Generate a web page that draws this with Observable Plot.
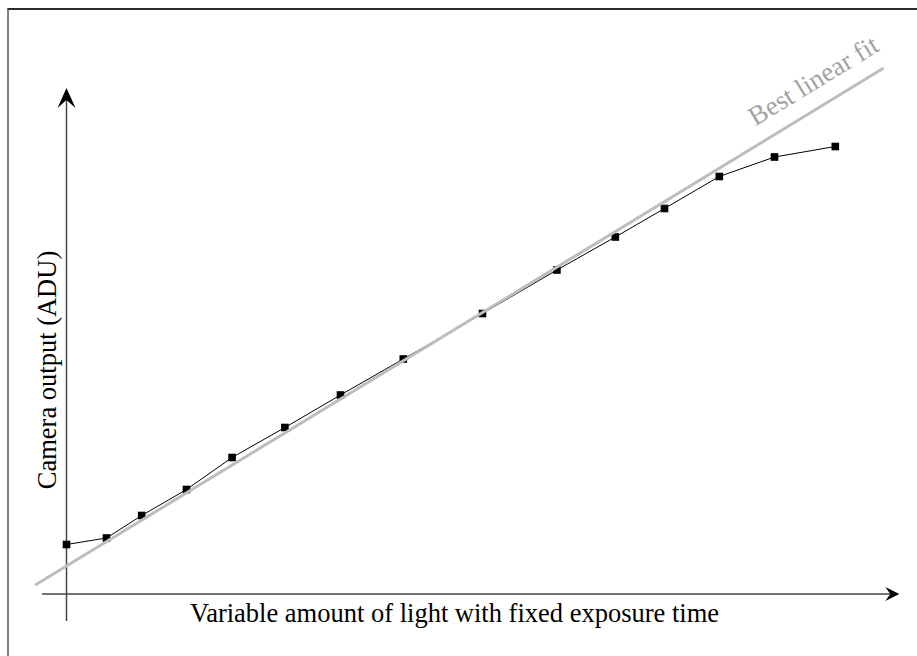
<!DOCTYPE html>
<html><head><meta charset="utf-8">
<script src="https://cdn.jsdelivr.net/npm/d3@7"></script>
<script src="https://cdn.jsdelivr.net/npm/@observablehq/plot@0.6"></script>
<style>
html,body{margin:0;padding:0;background:#fff;}
#frame{position:absolute;left:7px;top:8px;width:910px;height:648px;border-left:2px solid #808080;border-top:2px solid #2a2a2a;box-sizing:border-box;}
#chart{position:absolute;left:0;top:0;}
</style></head><body>
<div id="frame"></div><div id="chart"></div>
<script>
// measured data (arbitrary units)
const lightAmount  = [0, 5.0, 9.4, 15.0, 20.7, 27.3, 34.25, 42.1, 52.0, 61.3, 68.6, 74.75, 81.6, 88.5, 96.1];
const cameraOutput = [9.9, 11.2, 15.7, 20.9, 27.3, 33.3, 39.8, 47.0, 56.1, 64.8, 71.4, 77.1, 83.5, 87.4, 89.5];
// best linear fit
const fitX = [-3.8, 102];
const fitIntercept = 5.6;
const fitSlope = 0.975;
// axes extents (data units)
const xAxisExtent = [-3, 104.1];
const yAxisExtent = [-5.5, 101.2];
// labels
const xLabel = "Variable amount of light with fixed exposure time";
const yLabel = "Camera output (ADU)";
const fitLabel = "Best linear fit";

const points = lightAmount.map((x, i) => ({x, y: cameraOutput[i]}));
const fitLine = fitX.map(x => ({x, y: fitIntercept + fitSlope * x}));

const serif = "'Liberation Serif', 'Times New Roman', Times, serif";
const stealth = (len, half, notch) => ({
  draw(ctx) {
    ctx.moveTo(0, 0);
    ctx.lineTo(half, len);
    ctx.lineTo(0, notch);
    ctx.lineTo(-half, len);
    ctx.closePath();
  }
});

const plot = Plot.plot({
  width: 917,
  height: 656,
  margin: 0,
  x: {type: "linear", domain: [0, 100], range: [66, 866], axis: null},
  y: {type: "linear", domain: [0, 100], range: [593.5, 93.5], axis: null},
  style: {fontFamily: serif, background: "transparent"},
  marks: [
    // axes shafts
    Plot.ruleX([0], {y1: yAxisExtent[0], y2: yAxisExtent[1] - 1.5, stroke: "#444", strokeWidth: 1.5}),
    Plot.ruleY([0], {x1: xAxisExtent[0], x2: xAxisExtent[1] - 1, stroke: "#444", strokeWidth: 1.5}),
    // arrow heads
    Plot.dot([{x: 0, y: yAxisExtent[1]}], {x: "x", y: "y", symbol: stealth(20, 9, 12), fill: "#000", stroke: "none"}),
    Plot.dot([{x: xAxisExtent[1], y: 0}], {x: "x", y: "y", symbol: stealth(14, 7, 9), rotate: 90, fill: "#000", stroke: "none"}),
    // data
    Plot.line(points, {x: "x", y: "y", stroke: "#000", strokeWidth: 1}),
    Plot.dot(points, {x: "x", y: "y", symbol: "square", r: 4.3, fill: "#000", stroke: "none"}),
    // fit
    Plot.line(fitLine, {x: "x", y: "y", stroke: "#bdbdbd", strokeWidth: 3}),
    Plot.text([{x: 86.1, y: 93.5, t: fitLabel}], {x: "x", y: "y", text: "t", rotate: -31.4, textAnchor: "start", lineAnchor: "bottom", fill: "#a3a3a3", fontSize: 27, fontFamily: serif}),
    // axis labels
    Plot.text([{x: 48.5, y: -5.55, t: xLabel}], {x: "x", y: "y", text: "t", textAnchor: "middle", lineAnchor: "bottom", fill: "#000", fontSize: 26.5, fontFamily: serif}),
    Plot.text([{x: -1.375, y: 44.8, t: yLabel}], {x: "x", y: "y", text: "t", rotate: -90, textAnchor: "middle", lineAnchor: "bottom", fill: "#000", fontSize: 26.5, fontFamily: serif})
  ]
});
document.getElementById("chart").appendChild(plot);
</script>
</body></html>
